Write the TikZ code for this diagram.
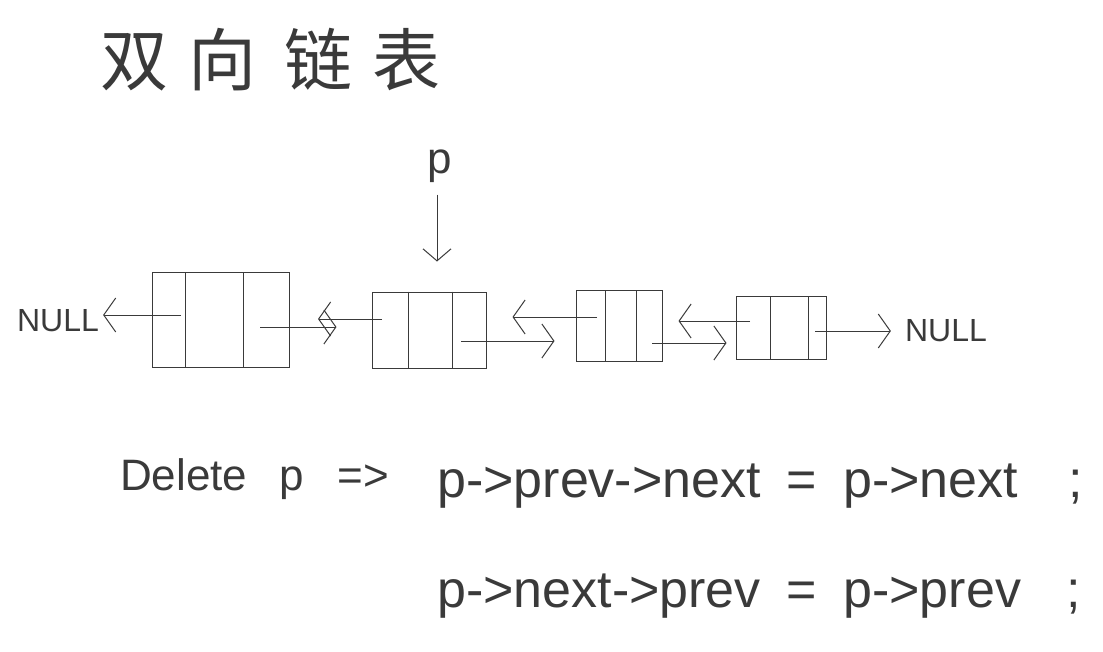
\documentclass[tikz,border=0pt]{standalone}
\usepackage{fontspec}
\setmainfont{Liberation Sans}
\newfontfamily\cjk{Noto Sans CJK SC}
\usetikzlibrary{arrows.meta,calc}
\definecolor{ink}{HTML}{3A3A3A}
\begin{document}
\begin{tikzpicture}[x=1pt,y=-1pt,
  ink/.style={draw=ink, line width=1pt},
  listnode/.style={ink, rectangle, inner sep=0pt},
  ptr/.style={ink, -{Straight Barb[length=12pt,width=34pt]}},
  hand/.style={text=ink, inner sep=0pt},
]
\useasboundingbox (0,0) rectangle (1103,651);

% title
\node[hand, anchor=west, font=\cjk\fontsize{68}{72}\selectfont] (title) at (100,60)
  {双\hspace{20pt}向\hspace{28pt}链\hspace{20pt}表};

% list nodes
\node[listnode, minimum width=137pt, minimum height=95pt] (n1) at (221,320) {};
\node[listnode, minimum width=114pt, minimum height=76pt] (n2) at (429,330) {};
\node[listnode, minimum width=86pt,  minimum height=71pt] (n3) at (619,326) {};
\node[listnode, minimum width=90pt,  minimum height=63pt] (n4) at (781,328) {};

\foreach \n/\a/\b in {n1/0.24/0.66, n2/0.32/0.70, n3/0.34/0.70, n4/0.39/0.80}{
  \draw[ink] ($(\n.north west)!\a!(\n.north east)$) -- ($(\n.south west)!\a!(\n.south east)$);
  \draw[ink] ($(\n.north west)!\b!(\n.north east)$) -- ($(\n.south west)!\b!(\n.south east)$);
}

% NULL labels
\node[hand, font=\fontsize{32}{40}\selectfont] (nullL) at (58,321) {NULL};
\node[hand, font=\fontsize{32}{40}\selectfont] (nullR) at (946,331) {NULL};

% p label
\node[hand, font=\fontsize{44}{50}\selectfont] (p) at (440,166) {p};
\draw[ink, -{Straight Barb[length=12pt,width=28pt]}, shorten >=30pt] (p.south) ++(-3,12) coordinate (ps) -- (ps |- n2.north);

% pointer start points
\coordinate (n1p) at (181,315);
\coordinate (n1n) at (260,327);
\coordinate (n2p) at (382,319);
\coordinate (n2n) at (461,341);
\coordinate (n3p) at (597,317);
\coordinate (n3n) at (652,343);
\coordinate (n4p) at (750,321);
\coordinate (n4n) at (815,331);

% pointers
\draw[ptr, shorten >=4pt] (n1p) -- (nullL.east |- n1p);
\draw[ptr, shorten >=35pt] (n1n) -- (n2.west |- n1n);
\draw[ptr, shorten >=28pt] (n2p) -- (n1.east |- n2p);
\draw[ptr, shorten >=21pt] (n2n) -- (n3.west |- n2n);
\draw[ptr, shorten >=26pt] (n3p) -- (n2.east |- n3p);
\draw[ptr, shorten >=9pt]  (n3n) -- (n4.west |- n3n);
\draw[ptr, shorten >=16pt] (n4p) -- (n3.east |- n4p);
\draw[ptr, shorten >=14pt] (n4n) -- (nullR.west |- n4n);

% code text
\node[hand, anchor=base west, font=\fontsize{44}{50}\selectfont] (del) at (120,490)
  {Delete\hspace{32pt}p\hspace{34pt}=>};
\node[hand, anchor=base west, font=\fontsize{52}{60}\selectfont] (l1) at (437,497)
  {p->prev->next\hspace{26pt}=\hspace{26pt}p->next\hspace{50pt};};
\node[hand, anchor=base west, font=\fontsize{52}{60}\selectfont] (l2) at (437,607)
  {p->next->prev\hspace{26pt}=\hspace{26pt}p->prev\hspace{46pt};};
\end{tikzpicture}
\end{document}
